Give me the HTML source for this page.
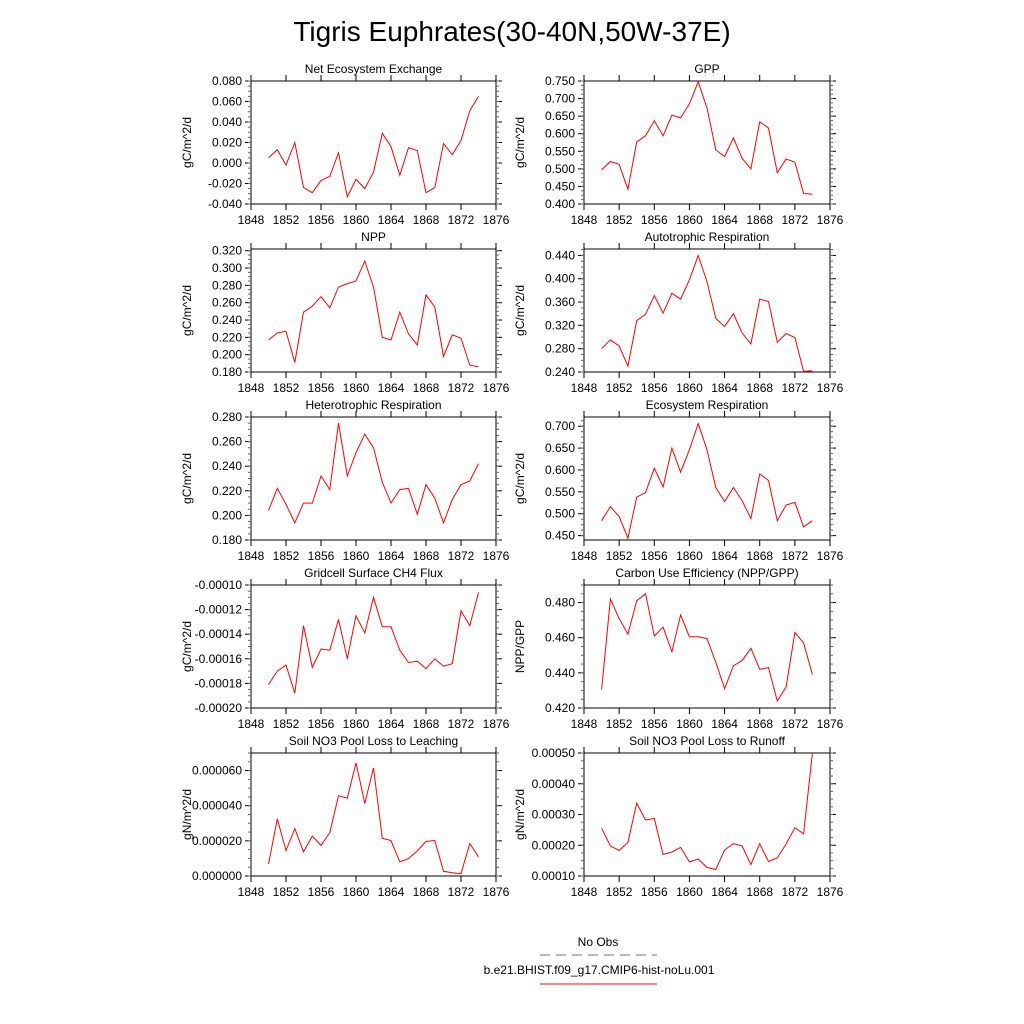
<!DOCTYPE html>
<html><head><meta charset="utf-8">
<style>
body{margin:0;background:#fff;}
svg{display:block;font-family:"Liberation Sans",Helvetica,sans-serif;}
</style></head>
<body>
<svg id="chart" width="1024" height="1024" viewBox="0 0 1024 1024">
<text x="512" y="41" text-anchor="middle" font-size="28">Tigris Euphrates(30-40N,50W-37E)</text>
<g id="panels"></g>
<g>
<text x="598" y="946" text-anchor="middle" font-size="12">No Obs</text>
<line x1="540" y1="955" x2="657" y2="955" stroke="#777" stroke-width="1" stroke-dasharray="10,6"/>
<text x="599" y="974" text-anchor="middle" font-size="12">b.e21.BHIST.f09_g17.CMIP6-hist-noLu.001</text>
<line x1="540" y1="984" x2="657" y2="984" stroke="#f00" stroke-width="1"/>
</g>
</svg>
<script>
const years = [1850,1851,1852,1853,1854,1855,1856,1857,1858,1859,1860,1861,1862,1863,1864,1865,1866,1867,1868,1869,1870,1871,1872,1873,1874];
const xTicks = [1848,1852,1856,1860,1864,1868,1872,1876];
const neeVals = [0.005,0.013,-0.002,0.020,-0.024,-0.029,-0.017,-0.013,0.010,-0.033,-0.016,-0.025,-0.009,0.029,0.016,-0.012,0.015,0.012,-0.029,-0.024,0.019,0.008,0.022,0.051,0.065];
const gppVals = [0.497,0.521,0.513,0.442,0.576,0.594,0.637,0.594,0.653,0.645,0.685,0.748,0.673,0.554,0.535,0.588,0.530,0.500,0.634,0.616,0.489,0.528,0.519,0.430,0.428];
const nppVals = [0.217,0.225,0.227,0.191,0.249,0.256,0.267,0.254,0.278,0.282,0.285,0.308,0.278,0.220,0.217,0.249,0.224,0.211,0.269,0.255,0.198,0.223,0.219,0.188,0.186];
const arVals = [0.280,0.295,0.285,0.250,0.328,0.339,0.371,0.341,0.375,0.365,0.398,0.440,0.395,0.332,0.318,0.340,0.307,0.288,0.365,0.361,0.291,0.306,0.299,0.241,0.242];
const hrVals = [0.204,0.222,0.209,0.194,0.210,0.210,0.232,0.221,0.275,0.232,0.251,0.266,0.255,0.227,0.210,0.221,0.222,0.201,0.225,0.214,0.194,0.213,0.225,0.228,0.242];
const erVals = [0.484,0.516,0.494,0.444,0.538,0.548,0.604,0.561,0.650,0.595,0.646,0.706,0.646,0.560,0.528,0.560,0.530,0.489,0.591,0.576,0.484,0.520,0.526,0.470,0.484];
const ch4Vals = [-0.000181,-0.000170,-0.000165,-0.000188,-0.000133,-0.000167,-0.000152,-0.000153,-0.000128,-0.000160,-0.000125,-0.000139,-0.000110,-0.000134,-0.000134,-0.000153,-0.000163,-0.000162,-0.000168,-0.000160,-0.000166,-0.000164,-0.000121,-0.000133,-0.000106];
const cueVals = [0.4305,0.482,0.471,0.462,0.481,0.485,0.461,0.466,0.452,0.473,0.4605,0.4605,0.4595,0.446,0.431,0.444,0.447,0.454,0.442,0.443,0.424,0.432,0.463,0.457,0.439];
const leachVals = [0.0000067,0.0000325,0.0000145,0.0000270,0.0000138,0.0000227,0.0000174,0.0000247,0.0000457,0.0000443,0.0000644,0.0000413,0.0000615,0.0000214,0.0000202,0.0000080,0.0000099,0.0000143,0.0000197,0.0000202,0.0000027,0.0000019,0.0000013,0.0000185,0.0000109];
const runoffVals = [0.000255,0.000198,0.000183,0.000209,0.000337,0.000282,0.000287,0.000170,0.000178,0.000193,0.000146,0.000155,0.000128,0.000121,0.000185,0.000205,0.000198,0.000137,0.000205,0.000147,0.000159,0.000204,0.000257,0.000237,0.000500];

const panels = [
 {name:'nee',title:'Net Ecosystem Exchange',yl:'gC/m^2/d',v:neeVals,min:-0.04,max:0.08,step:0.02,dec:3,col:0,row:0},
 {name:'gpp',title:'GPP',yl:'gC/m^2/d',v:gppVals,min:0.40,max:0.75,step:0.05,dec:3,col:1,row:0},
 {name:'npp',title:'NPP',yl:'gC/m^2/d',v:nppVals,min:0.18,max:0.322,step:0.02,dec:3,col:0,row:1},
 {name:'ar',title:'Autotrophic Respiration',yl:'gC/m^2/d',v:arVals,min:0.24,max:0.451,step:0.04,dec:3,col:1,row:1},
 {name:'hr',title:'Heterotrophic Respiration',yl:'gC/m^2/d',v:hrVals,min:0.18,max:0.28,step:0.02,dec:3,col:0,row:2},
 {name:'er',title:'Ecosystem Respiration',yl:'gC/m^2/d',v:erVals,min:0.44,max:0.721,step:0.05,dec:3,col:1,row:2,start:0.45},
 {name:'ch4',title:'Gridcell Surface CH4 Flux',yl:'gC/m^2/d',v:ch4Vals,min:-0.0002,max:-0.0001,step:0.00002,dec:5,col:0,row:3},
 {name:'cue',title:'Carbon Use Efficiency (NPP/GPP)',yl:'NPP/GPP',v:cueVals,min:0.42,max:0.49,step:0.02,dec:3,col:1,row:3},
 {name:'leach',title:'Soil NO3 Pool Loss to Leaching',yl:'gN/m^2/d',v:leachVals,min:0,max:0.00007,step:0.00002,dec:6,col:0,row:4},
 {name:'runoff',title:'Soil NO3 Pool Loss to Runoff',yl:'gN/m^2/d',v:runoffVals,min:0.0001,max:0.0005,step:0.0001,dec:5,col:1,row:4}
];
const NS='http://www.w3.org/2000/svg';
const root=document.getElementById('panels');
function mk(tag,attrs,parent){const e=document.createElementNS(NS,tag);for(const k in attrs)e.setAttribute(k,attrs[k]);parent.appendChild(e);return e;}
panels.forEach(p=>{
 const L=p.col?584:251, R=p.col?830:496;
 const T=[81,249,417,585,753][p.row], B=T+123;
 const g=mk('g',{},root);
 
 
 const xs=v=>L+(v-1848)/(1876-1848)*(R-L);
 const ys=v=>B-(v-p.min)/(p.max-p.min)*(B-T);
 const t=mk('text',{x:(L+R)/2,y:T-8,'text-anchor':'middle','font-size':12},g);
 t.textContent=p.title;
 
 
 const fr=mk('rect',{x:L,y:T,width:R-L,height:B-T,fill:'none',stroke:'#000','stroke-width':1},g);
 
 
 // x ticks
 xTicks.forEach(v=>{
  const x=xs(v);
  mk('line',{x1:x,y1:B,x2:x,y2:B+6,stroke:'#000'},g);
  mk('line',{x1:x,y1:T,x2:x,y2:T-6,stroke:'#000'},g);
  const lb=mk('text',{x:x,y:B+20,'text-anchor':'middle','font-size':12},g);
  lb.textContent=v;
  
  
 });
 // y ticks
 const start=p.start!==undefined?p.start:Math.ceil(p.min/p.step-1e-6)*p.step;
 for(let v=start;v<=p.max+1e-12;v+=p.step){
  const y=ys(v);
  mk('line',{x1:L,y1:y,x2:L-6,y2:y,stroke:'#000'},g);
  mk('line',{x1:R,y1:y,x2:R+6,y2:y,stroke:'#000'},g);
  const lb=mk('text',{x:L-9,y:y+4,'text-anchor':'end','font-size':12},g);
  let s=Math.abs(v)<1e-12?(0).toFixed(p.dec):v.toFixed(p.dec);
  lb.textContent=s;
  
  
 }
 const ms=p.step/4;
 for(let v=start-4*ms;v<=p.max+1e-12;v+=ms){
  if(v<p.min-1e-12)continue;
  const y=ys(v);
  mk('line',{x1:L,y1:y,x2:L-3,y2:y,stroke:'#666'},g);
  mk('line',{x1:R,y1:y,x2:R+3,y2:y,stroke:'#666'},g);
 }
 const yl=mk('text',{x:0,y:0,'text-anchor':'middle','font-size':12,transform:`translate(${L-60},${(T+B)/2}) rotate(-90)`},g);
 yl.textContent=p.yl;
 
 
 const pts=years.map((yr,i)=>xs(yr).toFixed(1)+','+ys(p.v[i]).toFixed(1)).join(' ');
 const ln=mk('polyline',{points:pts,fill:'none',stroke:'#f00','stroke-width':1},g);
 
 
});
</script>
</body></html>
